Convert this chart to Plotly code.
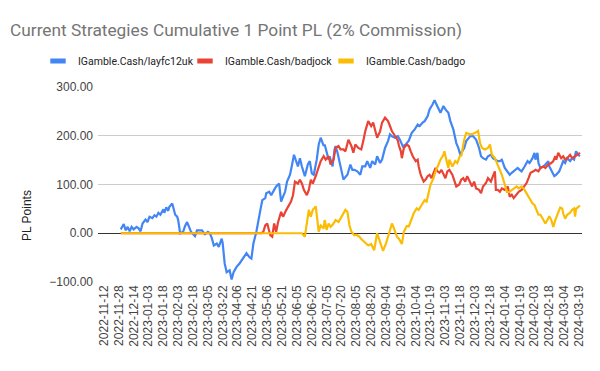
import plotly.graph_objects as go

tick_labels = [
    "2022-11-12", "2022-11-28", "2022-12-14", "2023-01-03", "2023-01-18", "2023-02-03",
    "2023-02-18", "2023-03-05", "2023-03-22", "2023-04-06", "2023-04-21", "2023-05-06",
    "2023-05-21", "2023-06-05", "2023-06-20", "2023-07-05", "2023-07-20", "2023-08-05",
    "2023-08-20", "2023-09-04", "2023-09-19", "2023-10-04", "2023-10-19", "2023-11-03",
    "2023-11-18", "2023-12-03", "2023-12-18", "2024-01-04", "2024-01-19", "2024-02-03",
    "2024-02-18", "2024-03-04", "2024-03-19",
]
label_step = 15  # categories between labelled dates

series_names = ["IGamble.Cash/layfc12uk", "IGamble.Cash/badjock", "IGamble.Cash/badgo"]
series_colors = ["#4285F4", "#EA4335", "#FBBC04"]

# layfc12uk: (category index, cumulative PL)
layfc_idx = [17, 20, 22, 24, 26, 28, 30, 33, 35, 37, 39, 42, 44, 46, 49, 51, 53, 55, 57, 60,
             61, 63, 65, 66, 69, 71, 72, 74, 75, 77, 80, 82, 84, 86, 88, 92, 94, 99, 102, 105,
             107, 109, 111, 114, 116, 119, 120, 122, 124, 127, 129, 131, 134, 137, 139, 141, 144, 147, 149, 151,
             154, 158, 160, 163, 164, 167, 169, 172, 174, 177, 179, 181, 183, 185, 188, 190, 192, 196, 198, 200,
             203, 206, 208, 210, 212, 215, 217, 219, 222, 223, 225, 227, 228, 231, 233, 234, 236, 238, 240, 242,
             243, 246, 249, 251, 253, 256, 259, 261, 264, 266, 269, 271, 274, 276, 279, 281, 284, 287, 289, 291,
             294, 297, 299, 302, 305, 308, 311, 314, 317, 319, 322, 324, 327, 329, 332, 334, 336, 338, 340, 343,
             345, 348, 350, 353, 354, 356, 358, 360, 361, 364, 366, 370, 373, 376, 379, 381, 383, 386, 388, 391,
             393, 396, 398, 400, 402, 405, 408, 410, 412, 415, 418, 420, 422, 425, 428, 430, 433, 435, 436, 438,
             439, 441, 444, 446, 449, 450, 453, 455, 457, 460, 462, 464, 466, 468, 471, 473, 475, 477, 479, 481]
layfc_val = [8, 19, 6, 13, 4, 13, 8, 13, 10, 4, 20, 28, 23, 34, 31, 37, 34, 42, 38, 49,
             42, 53, 46, 54, 61, 47, 38, 34, 27, 0, 3, 15, 23, 13, 3, -6, 6, 6, -2, 3,
             0, -10, -25, -21, -28, -11, -21, -62, -80, -76, -95, -80, -69, -62, -56, -52, -41, -49, -52, -21,
             3, 47, 68, 72, 82, 85, 78, 89, 96, 102, 65, 75, 85, 106, 120, 140, 161, 137, 154, 137,
             117, 141, 148, 123, 120, 151, 182, 196, 179, 182, 165, 151, 158, 137, 172, 179, 165, 144, 126, 110,
             113, 120, 141, 130, 130, 127, 120, 137, 137, 148, 134, 148, 141, 158, 144, 151, 175, 189, 203, 199,
             196, 199, 192, 178, 182, 190, 206, 213, 223, 220, 227, 230, 240, 254, 264, 273, 264, 254, 247, 261,
             254, 247, 230, 213, 203, 185, 175, 161, 165, 175, 189, 199, 199, 192, 175, 158, 154, 151, 158, 161,
             154, 151, 148, 148, 151, 134, 124, 120, 124, 130, 134, 130, 127, 137, 148, 144, 154, 165, 151, 165,
             144, 134, 137, 141, 148, 137, 124, 117, 120, 127, 137, 148, 144, 154, 148, 154, 151, 168, 161, 158]

# badjock
badjock_idx = [17, 159, 161, 163, 165, 168, 170, 172, 174, 176, 179, 181, 184, 186, 189, 191, 193, 196, 198, 200,
               202, 205, 207, 209, 211, 214, 216, 219, 222, 224, 227, 229, 232, 234, 237, 239, 242, 244, 247, 250,
               252, 254, 257, 260, 262, 264, 267, 270, 272, 274, 276, 279, 281, 284, 287, 289, 291, 294, 297, 298,
               300, 301, 303, 306, 308, 310, 312, 315, 317, 318, 320, 323, 325, 327, 329, 331, 334, 335, 337, 339,
               341, 343, 345, 347, 349, 352, 354, 356, 359, 361, 363, 365, 367, 370, 372, 374, 376, 379, 381, 383,
               386, 388, 391, 393, 395, 396, 398, 400, 402, 405, 408, 410, 412, 414, 417, 419, 422, 425, 427, 429,
               431, 434, 436, 439, 441, 444, 446, 449, 452, 454, 456, 457, 459, 462, 464, 466, 468, 471, 473, 476,
               478, 481]
badjock_val = [0, 0, 3, 16, 20, -4, -7, 20, 3, 23, 44, 34, 47, 54, 65, 78, 106, 102, 110, 102,
               89, 78, 89, 110, 102, 117, 130, 148, 158, 151, 158, 141, 151, 175, 179, 172, 172, 168, 192, 179,
               165, 182, 175, 172, 189, 209, 230, 220, 227, 213, 196, 209, 227, 237, 230, 220, 209, 200, 190, 180,
               168, 154, 175, 182, 179, 168, 158, 148, 151, 137, 120, 106, 110, 117, 120, 113, 127, 134, 127, 124,
               130, 120, 113, 127, 130, 120, 110, 96, 100, 110, 113, 106, 117, 103, 96, 106, 92, 89, 82, 96,
               103, 113, 106, 117, 127, 89, 89, 85, 92, 89, 96, 75, 79, 72, 79, 85, 89, 96, 103, 113,
               124, 127, 130, 127, 134, 137, 134, 141, 144, 148, 158, 151, 165, 154, 158, 151, 154, 161, 154, 158,
               161, 165]

# badgo
badgo_idx = [17, 200, 203, 206, 207, 209, 211, 214, 216, 217, 219, 222, 223, 225, 227, 229, 232, 234, 237, 239,
             242, 244, 246, 248, 250, 253, 255, 258, 260, 263, 265, 267, 270, 273, 276, 279, 282, 285, 287, 291,
             293, 296, 298, 301, 303, 306, 308, 311, 313, 316, 318, 321, 324, 326, 328, 330, 333, 335, 338, 340,
             343, 344, 346, 348, 349, 352, 355, 357, 360, 361, 364, 366, 370, 373, 376, 378, 380, 382, 385, 388,
             390, 392, 395, 398, 400, 402, 405, 407, 409, 412, 414, 417, 419, 422, 425, 427, 430, 433, 435, 437,
             439, 441, 444, 446, 448, 450, 452, 454, 456, 457, 459, 461, 463, 464, 466, 468, 471, 473, 475, 476,
             477, 479, 481]
badgo_val = [0, 0, -7, 38, 48, 34, 48, 55, 21, 3, 16, 10, 27, 7, 20, 13, 20, 27, 23, 30,
             38, 48, 44, 17, 3, -4, -3, -7, -12, -17, -21, -25, -22, -35, 0, -18, -36, -21, -7, 20,
             10, -7, -11, -22, 3, 15, 14, 30, 41, 51, 48, 58, 68, 65, 82, 100, 113, 127, 141, 151,
             161, 168, 150, 134, 151, 137, 148, 144, 161, 158, 192, 206, 203, 204, 207, 210, 185, 175, 172, 175,
             182, 161, 154, 139, 130, 120, 100, 85, 84, 89, 92, 96, 92, 96, 89, 82, 72, 61, 58, 48,
             38, 38, 27, 20, 27, 35, 27, 13, 27, 32, 44, 53, 51, 41, 30, 38, 42, 48, 51, 34,
             50, 54, 57]

all_idx = [layfc_idx, badjock_idx, badgo_idx]
all_val = [layfc_val, badjock_val, badgo_val]

fig = go.Figure()
for name, color, xs, ys in zip(series_names, series_colors, all_idx, all_val):
    fig.add_trace(go.Scatter(x=xs, y=ys, mode="lines", name=name, showlegend=False,
                             line=dict(color=color, width=2.2)))

legend_keys = ["legend", "legend2", "legend3"]
legend_left = [38, 185, 326]  # px from left edge of the page
for name, color, key in zip(series_names, series_colors, legend_keys):
    fig.add_trace(go.Scatter(x=[None], y=[None], mode="markers", name=name, legend=key,
                             marker=dict(symbol="line-ew", size=11, color=color,
                                         line=dict(color=color, width=5))))

legend_style = dict(orientation="h", xref="container", yref="container", xanchor="left",
                    y=1 - 61 / 371, yanchor="middle",
                    font=dict(family="Roboto, Arial, sans-serif", size=10.5, color="#222222"),
                    itemwidth=30, bgcolor="rgba(0,0,0,0)")
legends = {key: dict(legend_style, x=left / 600) for key, left in zip(legend_keys, legend_left)}

tick_vals = [i * label_step for i in range(len(tick_labels))]

fig.update_layout(
    width=600, height=371,
    margin=dict(l=98, r=18, t=87, b=89),
    paper_bgcolor="white", plot_bgcolor="white",
    font=dict(family="Arial, Liberation Sans, sans-serif", color="#444444"),
    title=dict(text="Current Strategies Cumulative 1 Point PL (2% Commission)",
               x=10 / 600, xanchor="left", xref="container",
               y=1 - 30 / 371, yanchor="middle", yref="container",
               font=dict(family="Roboto, Arial, sans-serif", size=17.3, color="#757575")),
    xaxis=dict(range=[-6, 483], tickmode="array", tickvals=tick_vals, ticktext=tick_labels,
               tickangle=-90, tickfont=dict(size=12, color="#444444"),
               showgrid=False, zeroline=False, showline=False, ticks="", automargin=False),
    yaxis=dict(range=[-100, 300], dtick=100, tick0=0, tickformat=".2f",
               tickfont=dict(size=12, color="#444444"), ticklabelstandoff=4,
               gridcolor="#cccccc", gridwidth=1,
               zeroline=True, zerolinecolor="#333333", zerolinewidth=1,
               showline=False, ticks="", automargin=False),
    annotations=[dict(text="PL Points", textangle=-90, xref="paper", yref="paper",
                      x=-71 / 484, y=(282 - 216) / 195, xanchor="center", yanchor="middle",
                      showarrow=False, font=dict(size=12, color="#222222"))],
    **legends,
)
fig.write_html("out.html", config={"displayModeBar": False},
               post_script="document.body.style.margin='0';document.body.style.overflow='hidden';")
